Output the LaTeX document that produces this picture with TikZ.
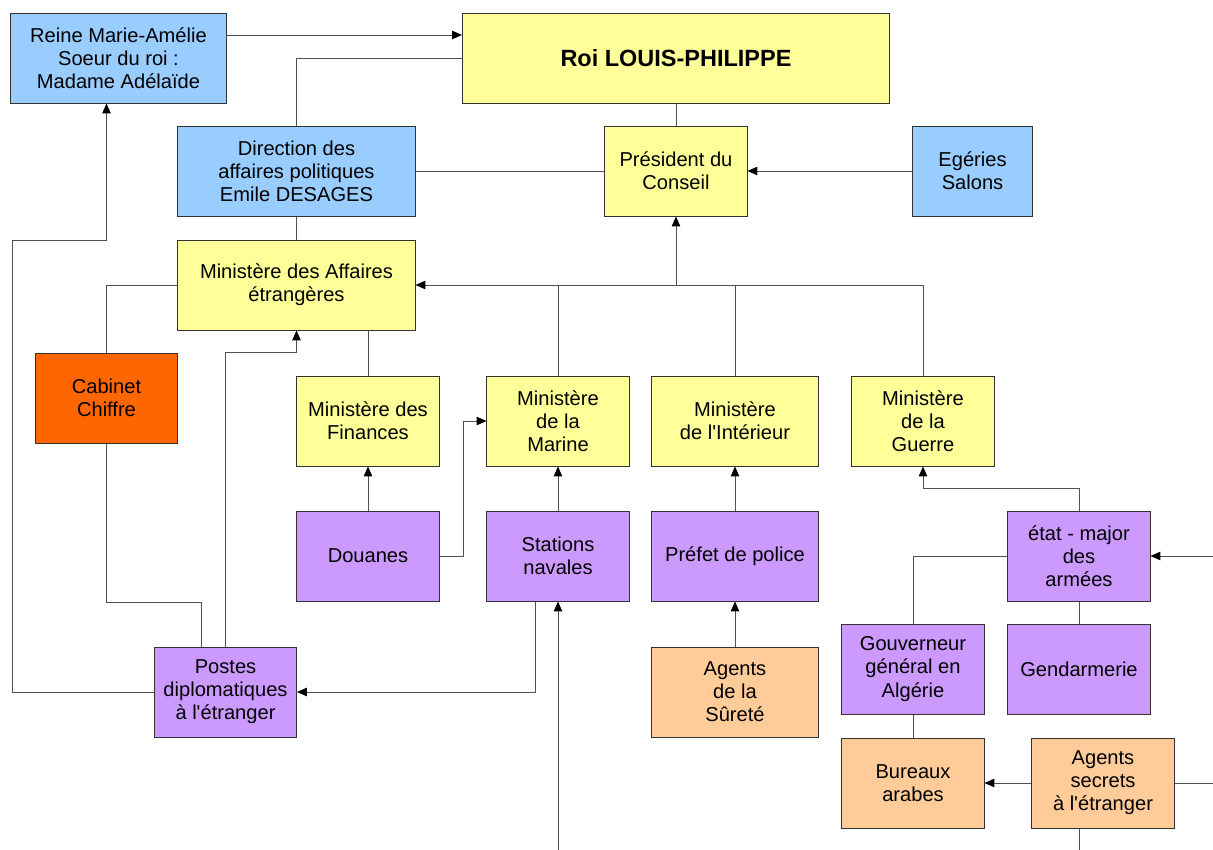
\documentclass[tikz,border=0pt]{standalone}
\usepackage{fontspec}
\setmainfont{Liberation Sans}
\usetikzlibrary{arrows.meta}
\definecolor{bleu}{HTML}{99CCFF}
\definecolor{jaune}{HTML}{FFFF99}
\definecolor{violet}{HTML}{CC99FF}
\definecolor{saumon}{HTML}{FFCC99}
\definecolor{orange}{HTML}{FF6600}
\definecolor{trait}{HTML}{505050}
\begin{document}
\begin{tikzpicture}[x=0.025cm, y=-0.025cm,
		>={Triangle[length=7pt,width=6pt,color=black]},
		lien/.style={draw=trait, line width=0.6pt},
		box/.style={draw=black!80, line width=0.7pt, align=center, inner sep=0pt,
			minimum height=2.25cm, font=\fontsize{14.3}{16.4}\selectfont},
		std/.style={box, minimum width=3.55cm},
		wide/.style={box, minimum width=5.925cm},
		mid/.style={box, minimum width=4.15cm}]
			\useasboundingbox (0,0) rectangle (1213,850);
			\node[box, fill=bleu, minimum width=5.375cm] (reine) at (118.5,58) {Reine Marie-Amélie\\Soeur du roi :\\Madame Adélaïde};
			\node[box, fill=jaune, minimum width=10.675cm, font=\fontsize{16.7}{19}\selectfont\bfseries] (roi) at (676,58) {Roi LOUIS-PHILIPPE};
			\node[wide, fill=bleu] (dir) at (296.5,171) {Direction des\\affaires politiques\\Emile DESAGES};
			\node[std, fill=jaune] (pres) at (676,171) {Président du\\Conseil};
			\node[box, fill=bleu, minimum width=2.975cm] (eg) at (972.5,171) {Egéries\\Salons};
			\node[wide, fill=jaune] (mae) at (296.5,285) {Ministère des Affaires\\étrangères};
			\node[std, fill=orange] (cab) at (106.5,398) {Cabinet\\Chiffre};
			\node[std, fill=jaune] (fin) at (368,421) {Ministère des\\Finances};
			\node[std, fill=jaune] (mar) at (558,421) {Ministère\\de la\\Marine};
			\node[mid, fill=jaune] (mint) at (735,421) {Ministère\\de l\textquotesingle Intérieur};
			\node[std, fill=jaune] (guer) at (923,421) {Ministère\\de la\\Guerre};
			\node[std, fill=violet] (dou) at (368,556) {Douanes};
			\node[std, fill=violet] (stat) at (558,556) {Stations\\navales};
			\node[mid, fill=violet] (pref) at (735,556) {Préfet de police};
			\node[std, fill=violet] (etat) at (1079,556) {état - major\\des\\armées};
			\node[std, fill=violet] (post) at (225.5,692) {Postes\\diplomatiques\\à l\textquotesingle étranger};
			\node[mid, fill=saumon] (sur) at (735,692) {Agents\\de la\\Sûreté};
			\node[std, fill=violet] (gouv) at (913,669) {Gouverneur\\général en\\Algérie};
			\node[std, fill=violet] (gend) at (1079,669) {Gendarmerie};
			\node[std, fill=saumon] (bur) at (913,783) {Bureaux\\arabes};
			\node[std, fill=saumon] (sec) at (1103,783) {Agents\\secrets\\à l\textquotesingle étranger};
			\coordinate (bordA) at (1213,556);
			\coordinate (bordB) at (1213,783);
			\coordinate (bordC) at (1079,850);
			\coordinate (bordD) at (558,850);

			\draw[lien, ->] ([yshift=0.575cm]reine.east) to ([yshift=0.575cm]roi.west);
			\draw[lien] (roi.west) -| (dir.north);
			\draw[lien] (roi.south) to (pres.north);
			\draw[lien] (dir.east) to (pres.west);
			\draw[lien, ->] (eg.west) to (pres.east);
			\draw[lien] (dir.south) to (mae.north);
			\draw[lien, ->] (guer.north) |- (mae.east);
			\draw[lien] (mar.north) to (mar.north |- mae.east);
			\draw[lien] (mint.north) to (mint.north |- mae.east);
			\draw[lien, ->] (pres.south |- mae.east) to (pres.south);
			\draw[lien] (mae.west) -| (cab.north);
			\draw[lien] (fin.north) to (fin.north |- mae.south);
			\draw[lien, ->] (dou.north) to (fin.south);
			\draw[lien, ->] (dou.east) -- ++(24,0) |- (mar.west);
			\draw[lien, ->] (stat.north) to (mar.south);
			\draw[lien, ->] (pref.north) to (mint.south);
			\draw[lien, ->] (sur.north) to (pref.south);
			\draw[lien, ->] (etat.north) -- ++(0,-22) -| (guer.south);
			\draw[lien, ->] (bordA) to (etat.east);
			\draw[lien] (etat.west) -| (gouv.north);
			\draw[lien] (etat.south) to (gend.north);
			\draw[lien] (gouv.south) to (bur.north);
			\draw[lien, ->] (sec.west) to (bur.east);
			\draw[lien] (sec.east) to (bordB);
			\draw[lien] (sec.south -| bordC) to (bordC);
			\draw[lien] (cab.south) -- ++(0,159) -| ([xshift=-0.6cm]post.north);
			\draw[lien, ->] (post.north) -- ++(0,-294) -| (mae.south);
			\draw[lien, ->] (post.west) -- ++(-142,0) -- ++(0,-452) -| ([xshift=-0.3cm]reine.south);
			\draw[lien, ->] ([xshift=-0.575cm]stat.south) |- (post.east);
			\draw[lien, ->] (bordD) to (stat.south);
		\end{tikzpicture}
\end{document}
